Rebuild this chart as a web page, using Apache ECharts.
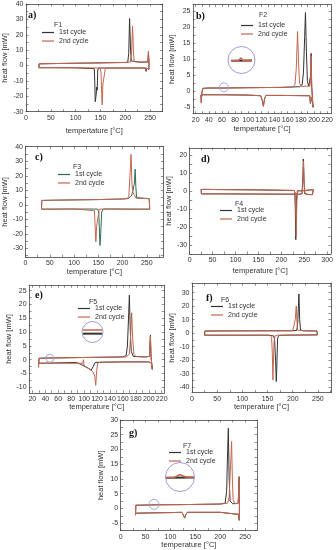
<!DOCTYPE html>
<html><head><meta charset="utf-8">
<script src="https://cdn.jsdelivr.net/npm/echarts@6/dist/echarts.min.js"></script>
<style>html,body{margin:0;padding:0;background:#fff}#c{width:336px;height:550px}</style>
</head><body><div id="c"></div><script>
// ---------- data: [temperature °C, heat flow mW] ----------
const F1_c1 = [[26,-1.4],[26.5,1.1],[40,1.2],[80,1.4],[120,1.6],[160,1.8],[200,2.0],[205,2.2],[207,8],[208.7,30.6],[210.5,12],[212,3],[216,2.2],[230,2.2],[245.5,2.3],[246.7,9],[247.8,1],[247.5,-2.5],[246,-1.6],[243,-1.6],[242,-3.8],[241,-1.6],[200,-1.6],[160,-1.6],[146,-1.6],[144.5,-3],[143.5,-16],[142.5,-14],[141,-20],[139.5,-23.5],[138.5,-10],[137.5,-2],[135,-1.5],[100,-1.5],[60,-1.4],[26,-1.4]];
const F1_c2 = [[26,-1.4],[26.5,1.1],[40,1.2],[80,1.4],[120,1.6],[160,1.8],[200,2.0],[210,2.2],[212.5,7],[214.7,25.6],[216.5,9],[218,2.5],[225,2.3],[245.5,2.4],[246.7,9],[247.8,1],[247.5,-2.5],[246,-1.6],[243,-1.6],[242,-3],[241,-1.6],[200,-1.6],[160,-1.6],[157,-2.5],[155,-12],[153.5,-25.5],[152.5,-18],[151,-4],[149,-1.6],[120,-1.5],[60,-1.4],[26,-1.4]];
const F2_c1 = [[28,-1.2],[28.6,-3.5],[29.5,-0.5],[31,0.9],[40,1.0],[60,1.0],[100,1.1],[150,1.2],[178,1.4],[182,2],[184,6],[185.8,17],[187,24.5],[188.5,12],[190,3],[192,1.6],[194,1.6],[195,5],[195.6,11.8],[196.5,1.5],[198,1.2],[198.5,-5],[197,-1.8],[195.5,-1.4],[194.5,-3.8],[193.5,-1.4],[190,-1.4],[150,-1.3],[127,-1.3],[125,-2.2],[123,-4.6],[121.5,-3],[119,-1.4],[116,-1.2],[100,-1.2],[60,-1.1],[30,-1.1],[28,-1.2]];
const F2_c2 = [[28,-1.2],[28.6,-3.7],[29.5,-0.5],[31,0.9],[40,1.0],[61,1.0],[63,1.4],[65,1.0],[100,1.1],[150,1.2],[168,1.3],[171,2],[173,7],[175,18.6],[176.5,9],[178,2.5],[181,1.5],[194,1.6],[195,5],[195.6,11],[196.5,1.5],[198,1.2],[198.5,-5],[197,-1.8],[195.5,-1.4],[194.5,-3.5],[193.5,-1.4],[190,-1.4],[150,-1.3],[127,-1.3],[125,-2.2],[123,-4.8],[121.5,-3],[119,-1.4],[116,-1.2],[100,-1.2],[60,-1.1],[30,-1.1],[28,-1.2]];
const F3_c1 = [[33,-3],[33.5,3],[60,3.2],[150,3.6],[200,4],[212,4.3],[218,6],[221,9],[223,9],[224.5,15],[226,24.5],[227.5,12],[229,5],[233,4.2],[255,4.2],[256,-3],[240,-3],[170,-2.9],[160,-3],[157,-5],[155,-20],[153.5,-28],[152.5,-20],[151,-5],[149,-3],[140,-2.9],[100,-2.9],[33,-3]];
const F3_c2 = [[33,-3],[33.5,3],[60,3.2],[150,3.6],[200,4],[210,4.3],[213,6],[215,18],[217.5,34.7],[219.5,14],[221,9],[224,7],[228,4.5],[255,4.2],[256,-3],[240,-3],[170,-2.9],[152,-3],[148,-4],[146.5,-15],[145,-25.5],[144,-18],[142,-4],[140,-3],[100,-2.9],[33,-3]];
const F4_c1 = [[25,0.8],[25.5,-1.6],[60,-1.6],[150,-1.7],[240,-1.8],[245,-1.5],[247,8],[248,17.8],[249.5,5],[251,-1.5],[260,-2],[268,-2],[269.5,0.8],[267,0.3],[250,0.2],[235,0.1],[233,-5],[231.5,-27],[230.5,-10],[229.5,-1],[228,0.3],[150,0.6],[60,0.8],[29,0.9],[25,0.8]];
const F4_c2 = [[25,0.8],[25.5,-1.6],[60,-1.6],[150,-1.7],[240,-1.8],[245.5,-1.5],[247.5,8],[248.5,16.5],[250,5],[251.5,-1.5],[260,-2],[268,-2],[269.5,0.8],[267,0.3],[250,0.2],[236,0.1],[234,-5],[232.5,-25],[231.5,-10],[230,-1],[228,0.3],[150,0.6],[60,0.8],[29,0.9],[25,0.8]];
const F5_c1 = [[30,-1.3],[30.3,0.5],[40,0.6],[100,0.8],[160,1.0],[165,1.5],[167,5],[169,17],[170,23.4],[171.5,10],[173,3],[176,1.2],[195,1.0],[201,1.2],[202.5,8.9],[203.5,1],[205,0.8],[205.5,-3.5],[204,-1.2],[200,-0.8],[160,-0.8],[130,-0.9],[117,-1.0],[114,-2.5],[111,-3.8],[105,-2.9],[95,-1.7],[88,-1.0],[70,-1.1],[50,-1.2],[30,-1.3]];
const F5_c2 = [[30,-1.3],[29.5,-2.8],[30.5,0.5],[40,0.6],[47,0.6],[100,0.8],[165,1.0],[170,2],[172,9],[173.6,17],[175,8],[177,2],[180,1.1],[195,1.0],[201,1.2],[202.5,8.5],[203.5,1],[205,0.8],[205.5,-3.5],[204,-1.2],[200,-0.8],[160,-0.8],[125,-0.9],[121,-1.3],[119.5,-4],[118,-9.3],[116.5,-6],[114,-4.5],[110,-3.6],[104,-2.8],[100,-2.2],[99,0],[98,-1.3],[90,-1.3],[50,-1.3],[30,-1.3]];
const F6_c1 = [[25,-1.5],[25.5,1.6],[100,1.7],[200,1.8],[208,2],[210,8],[212.3,29],[213.8,10],[215.5,2.5],[220,1.8],[248,1.6],[249,-1.3],[240,-1.3],[180,-1.5],[172,-1.8],[170,-4],[168,-30],[167.3,-35.8],[166,-20],[164,-5],[162,-2],[150,-1.5],[25,-1.5]];
const F6_c2 = [[25,-1.5],[25.5,1.6],[100,1.7],[200,1.8],[203,2.5],[205,10],[207,20.1],[208.5,8],[210,2.2],[220,1.8],[248,1.6],[249,-1.3],[240,-1.3],[170,-1.5],[165,-2],[163,-6],[161,-30],[160.7,-34.6],[159.5,-15],[158,-3],[155,-1.5],[25,-1.5]];
const F7_c1 = [[30,-1.6],[30.5,1.1],[60,1.2],[120,1.3],[200,1.5],[210,1.8],[213,6],[215,20],[216.4,27.2],[218,10],[220,2.5],[225,1.6],[236,1.7],[237.5,6],[238,10.8],[238.7,1],[238.3,-4],[237,-2],[234,-1.5],[200,-1.3],[150,-1.3],[134,-1.3],[131,-2],[128.6,-3.2],[126,-2.2],[123,-1.3],[100,-1.4],[60,-1.5],[30,-1.6]];
const F7_c2 = [[30,-1.6],[29.5,-2.3],[30.5,1.1],[60,1.2],[65,1.3],[68,1.6],[71,1.3],[120,1.3],[200,1.5],[215,1.8],[218,4],[221,15],[222.9,22.7],[224.5,10],[226,3],[229,1.7],[236,1.7],[237.5,6],[238,10.5],[238.7,1],[238.3,-4],[237,-2],[234,-1.5],[200,-1.3],[150,-1.3],[134,-1.3],[131,-2],[128.6,-3.3],[126,-2.2],[123,-1.3],[100,-1.4],[60,-1.5],[30,-1.6]];
// magnified insets
const F2_inset_c1 = [[55,1.0],[72,1.05]];
const F2_inset_c2 = [[55,1.0],[61,1.0],[63,1.35],[65,1.0],[72,1.05]];
const F5_inset_c1 = [[44,-0.5],[50,-0.5]];
const F5_inset_c2 = [[44,0.6],[50,0.6]];
const F7_inset_c1 = [[64,1.2],[78,1.25]];
const F7_inset_c2 = [[64,1.2],[68,1.25],[71,1.55],[74,1.3],[78,1.25]];
// zoom markers [T, mW]
const F2_mark = [[63,1.2]];
const F5_mark = [[47,0.5]];
const F7_mark = [[67,1.4]];
// tick labels
const xLab_0_250 = [0,50,100,150,200,250];
const xLab_0_300 = [0,50,100,150,200,250,300];
const xLab_20_220 = [20,40,60,80,100,120,140,160,180,200,220];
const yLabA = [-30,-20,-10,0,10,20,30,40];
const yLabB = [-5,0,5,10,15,20,25];
const yLabC = [-30,-20,-10,0,10,20,30,40];
const yLabD = [-30,-20,-10,0,10,20];
const yLabE = [-10,-5,0,5,10,15,20,25];
const yLabF = [-40,-30,-20,-10,0,10,20,30];
const yLabG = [-5,0,5,10,15,20,25,30];
const seriesNames = ['1st cycle','2nd cycle'];

const DARK = '#333333', RED = '#c6654d', GREEN = '#2f6b57', CIRC = '#9c9cd8';
const FONT = 'Liberation Sans, Arial, sans-serif';

const panels = [
 {id:'F1', letter:'a)', c1:F1_c1, c2:F1_c2, col1:DARK, g:[25,4,137.5,107.7], xr:[0,275], yr:[-30,40], xl:xLab_0_250, yl:yLabA, xName:'tempertature [°C]', xGap:15, yGap:17, lp:[28,15], fp:[58,25], lg:[42,29]},
 {id:'F2', letter:'b)', c1:F2_c1, c2:F2_c2, col1:DARK, g:[193,4.6,139,109.1], xr:[16,226], yr:[-7,27], xl:xLab_20_220, yl:yLabB, xName:'tempertature [°C]', xGap:11.5, yGap:17.5, lp:[196,16], fp:[263,15], lg:[241,22]},
 {id:'F3', letter:'c)', c1:F3_c1, c2:F3_c2, col1:GREEN, g:[23.3,146.7,140,110.4], xr:[0,284], yr:[-36,40], xl:xLab_0_250, yl:yLabC, xName:'temperature [°C]', xGap:10, yGap:11, lp:[35,157], fp:[77,167], lg:[58,171]},
 {id:'F4', letter:'d)', c1:F4_c1, c2:F4_c2, col1:DARK, g:[189.7,147.8,142,106.2], xr:[0,308], yr:[-35,24], xl:xLab_0_300, yl:yLabD, xName:'temperature [°C]', xGap:13, yGap:13.5, lp:[201,159], fp:[239,204.3], lg:[220,207]},
 {id:'F5', letter:'e)', c1:F5_c1, c2:F5_c2, col1:DARK, g:[29.1,285.2,135.2,107.6], xr:[15,224], yr:[-12,27], xl:xLab_20_220, yl:yLabE, xName:'temperature [°C]', xGap:10, yGap:13.4, lp:[35,295], fp:[93,302], lg:[78,305]},
 {id:'F6', letter:'f)', c1:F6_c1, c2:F6_c2, col1:DARK, g:[192,283.2,139,109.4], xr:[0,276], yr:[-44,37], xl:xLab_0_250, yl:yLabF, xName:'temperature [°C]', xGap:10, yGap:16, lp:[206,298], fp:[225,300], lg:[211,303]},
 {id:'F7', letter:'g)', c1:F7_c1, c2:F7_c2, col1:DARK, g:[120.7,420,136.3,110.7], xr:[0,274], yr:[-7.5,30], xl:xLab_0_250, yl:yLabG, xName:'temperature [°C]', xGap:8.6, yGap:16, lp:[129,433], fp:[187,445.7], lg:[169,449]}
];

function tickVals(labels, min, max) {
  const h = (labels[1] - labels[0]) / 2;
  const start = labels[0] - h * Math.floor((labels[0] - min) / h + 1e-9);
  const out = [];
  for (let v = start; v <= max + 1e-9; v += h) out.push(Math.round(v * 100) / 100);
  return out;
}

const axLine = {show:true, onZero:false, lineStyle:{color:'#444', width:0.8}};
const grids = [], xAxes = [], yAxes = [], series = [], legends = [], graphics = [];

panels.forEach((p, i) => {
  grids.push({left:p.g[0], top:p.g[1], width:p.g[2], height:p.g[3], containLabel:false});
  const xt = tickVals(p.xl, p.xr[0], p.xr[1]);
  const yt = tickVals(p.yl, p.yr[0], p.yr[1]);
  const tick = {show:true, inside:true, length:2.5, lineStyle:{color:'#444', width:0.6}};
  xAxes.push({type:'value', gridIndex:i, min:p.xr[0], max:p.xr[1], position:'bottom', axisLine:axLine,
    axisTick:Object.assign({customValues:xt}, tick), splitLine:{show:false},
    axisLabel:{customValues:p.xl, fontSize:7, margin:2.5, color:'#333', fontFamily:FONT},
    name:p.xName, nameLocation:'middle', nameGap:p.xGap, nameTextStyle:{fontSize:7.5, color:'#333', fontFamily:FONT}});
  xAxes.push({type:'value', gridIndex:i, min:p.xr[0], max:p.xr[1], position:'top', axisLine:axLine,
    axisTick:Object.assign({customValues:xt}, tick), splitLine:{show:false}, axisLabel:{show:false}});
  yAxes.push({type:'value', gridIndex:i, min:p.yr[0], max:p.yr[1], position:'left', axisLine:axLine,
    axisTick:Object.assign({customValues:yt}, tick), splitLine:{show:false},
    axisLabel:{customValues:p.yl, fontSize:7, margin:2.5, color:'#333', fontFamily:FONT},
    name:'heat flow [mW]', nameLocation:'middle', nameGap:p.yGap, nameTextStyle:{fontSize:7.5, color:'#333', fontFamily:FONT}});
  yAxes.push({type:'value', gridIndex:i, min:p.yr[0], max:p.yr[1], position:'right', axisLine:axLine,
    axisTick:Object.assign({customValues:yt}, tick), splitLine:{show:false}, axisLabel:{show:false}});
  [[p.c1, p.col1, seriesNames[0]], [p.c2, RED, seriesNames[1]]].forEach(([d, col, nm]) => {
    series.push({type:'line', name:p.id + ' ' + nm, xAxisIndex:2*i, yAxisIndex:2*i, data:d, symbol:'none', showSymbol:false,
      lineStyle:{width:1, color:col}, itemStyle:{color:col}, animation:false, z:3});
  });
  legends.push({left:p.lg[0], top:p.lg[1], orient:'vertical', padding:0, icon:'rect', itemWidth:12, itemHeight:1.2, itemGap:1.5,
    selectedMode:false, data:seriesNames.map(n => p.id + ' ' + n),
    formatter:n => n.slice(n.indexOf(' ') + 1),
    textStyle:{fontSize:7, color:'#333', fontFamily:FONT, lineHeight:7}});
  graphics.push({type:'text', x:p.lp[0], y:p.lp[1], style:{text:p.letter, fontSize:10, fontWeight:'bold', fontFamily:'Liberation Serif, Times New Roman, serif', fill:'#111', align:'left', verticalAlign:'middle'}});
  graphics.push({type:'text', x:p.fp[0], y:p.fp[1], style:{text:p.id, fontSize:7, fontFamily:FONT, fill:'#333', align:'center', verticalAlign:'middle'}});
});

// zoom markers on main grids
[[1, F2_mark, 9], [4, F5_mark, 8], [6, F7_mark, 10]].forEach(([pi, d, s]) => {
  series.push({type:'scatter', name:'mark' + pi, xAxisIndex:2*pi, yAxisIndex:2*pi, data:d, symbol:'circle', symbolSize:s,
    itemStyle:{color:'rgba(0,0,0,0)', borderColor:CIRC, borderWidth:0.9, opacity:1}, z:4, animation:false, silent:true});
});

// insets
const insets = [
 {g:[231,55,21,10], xr:[55,72], yr:[0.5,1.7], c1:F2_inset_c1, c2:F2_inset_c2, center:[63.5,1.1], size:27},
 {g:[83,327,19,10], xr:[44,50], yr:[-1.5,1.5], c1:F5_inset_c1, c2:F5_inset_c2, center:[47,0], size:21},
 {g:[166,471,28,12], xr:[64,78], yr:[0.6,2.0], c1:F7_inset_c1, c2:F7_inset_c2, center:[71,1.3], size:29}
];
insets.forEach((q, j) => {
  const gi = panels.length + j, ai = 2*panels.length + j;
  grids.push({left:q.g[0], top:q.g[1], width:q.g[2], height:q.g[3]});
  xAxes.push({type:'value', gridIndex:gi, min:q.xr[0], max:q.xr[1], show:false});
  yAxes.push({type:'value', gridIndex:gi, min:q.yr[0], max:q.yr[1], show:false});
  series.push({type:'scatter', name:'inset' + j, xAxisIndex:ai, yAxisIndex:ai, data:[q.center], symbol:'circle', symbolSize:q.size,
    itemStyle:{color:'#fff', borderColor:CIRC, borderWidth:1, opacity:1}, z:5, animation:false, silent:true});
  series.push({type:'line', name:'inset' + j + 'a', xAxisIndex:ai, yAxisIndex:ai, data:q.c1, symbol:'none', lineStyle:{width:2, color:DARK}, z:6, animation:false});
  series.push({type:'line', name:'inset' + j + 'b', xAxisIndex:ai, yAxisIndex:ai, data:q.c2, symbol:'none', lineStyle:{width:1.6, color:RED}, z:7, animation:false});
});

const chart = echarts.init(document.getElementById('c'), null, {renderer:'canvas'});
chart.setOption({
  backgroundColor:'#fff', animation:false,
  grid:grids, xAxis:xAxes, yAxis:yAxes, series:series, legend:legends,
  graphic:{elements:graphics}
});
</script></body></html>
